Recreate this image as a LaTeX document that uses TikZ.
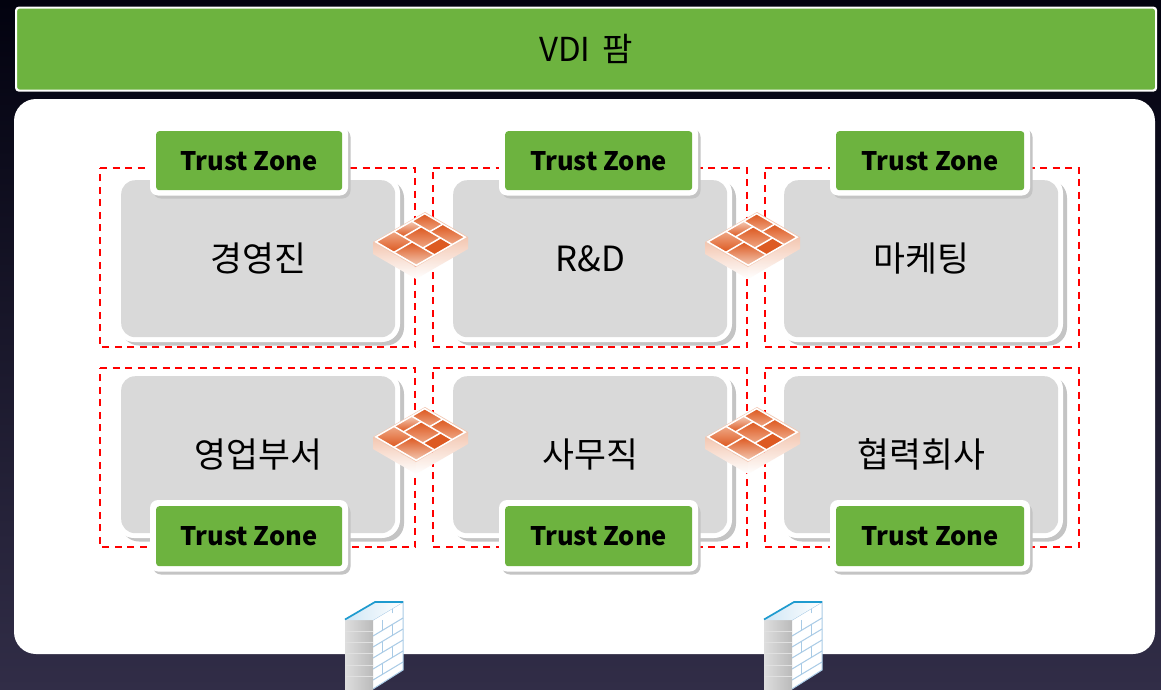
\documentclass[tikz,border=0pt]{standalone}
\usepackage{fontspec}
\setmainfont{Noto Sans CJK KR}
\usetikzlibrary{positioning,calc}
\definecolor{zonegreen}{HTML}{6DB33F}
\definecolor{boxgray}{HTML}{D9D9D9}
\definecolor{shadowgray}{HTML}{C4C4C4}
\definecolor{bgtop}{HTML}{02020F}
\definecolor{bgbot}{HTML}{312D47}
\definecolor{fwA}{HTML}{DD5A22}
\definecolor{fwB}{HTML}{EFA582}
\definecolor{fwC}{HTML}{F3C6B0}
\definecolor{wallline}{HTML}{A9CBE6}
\definecolor{wallblue}{HTML}{1F9BCF}
\definecolor{walltop}{HTML}{CFE6F5}
\tikzset{
  banner/.style={draw=white,line width=2.2pt,fill=zonegreen,rounded corners=3pt,text=black,font=\fontsize{33}{38}\selectfont},
  panel/.style={fill=white,rounded corners=22pt},
  zoneframe/.style={draw=red,line width=1.6pt,dash pattern=on 7pt off 5.5pt},
  deptbox/.style={fill=boxgray,rounded corners=14pt,text=black,font=\fontsize{34.7}{40}\selectfont},
  trustbox/.style={fill=zonegreen,rounded corners=3pt,text=black,font=\bfseries\fontsize{25.5}{30}\selectfont},
  ringwhite/.style={fill=white,rounded corners=8pt},
  ringshadow/.style={fill=shadowgray,rounded corners=8pt},
  cellline/.style={draw=white,line width=1.5pt},
  fwcell/.style={top color=fwA,bottom color=fwB},
}
% dept: name, x0, y0, x1, y1, text
\newcommand{\deptbox}[6]{%
  \fill[ringshadow,rounded corners=18pt] (#2,#3) rectangle (#4+9,#5+8.5);
  \fill[ringwhite,rounded corners=18pt] (#2-5,#3-5) rectangle (#4+5,#5+5);
  \node[deptbox,minimum width=#4pt-#2pt,minimum height=#5pt-#3pt,inner sep=0pt,anchor=north west] (#1) at (#2,#3) {#6};
}
% trust: name, x0, y0, x1, y1
\newcommand{\trustzone}[5]{%
  \fill[ringshadow] (#2-3,#3-2) rectangle (#4+8.5,#5+8.5);
  \fill[ringwhite] (#2-6,#3-6) rectangle (#4+6,#5+5.5);
  \node[trustbox,minimum width=#4pt-#2pt,minimum height=#5pt-#3pt,inner sep=0pt,anchor=north west] (#1) at (#2,#3) {Trust Zone};
}
% firewall: top corner x,y
\newcommand{\firewallicon}[2]{%
  \begin{scope}[shift={(#1,#2)},x={(43pt,-25pt)},y={(-52pt,-30pt)}]
    \shade[top color=fwC,bottom color=white]
      (0,1) -- (1,1) -- ([yshift=-12pt]1,1) -- ([yshift=-12pt]0,1) -- cycle;
    \shade[top color=fwC,bottom color=white]
      (1,1) -- (1,0) -- ([yshift=-12pt]1,0) -- ([yshift=-12pt]1,1) -- cycle;
    \fill[fwC] (0,0) -- (1,0) -- (1,1) -- (0,1) -- cycle;
    \shade[fwcell] (.04,.04) -- (.44,.04) -- (.44,.27) -- (.04,.27) -- cycle;
    \shade[fwcell] (.46,.04) -- (.96,.04) -- (.96,.27) -- (.46,.27) -- cycle;
    \shade[top color=fwC,bottom color=fwA] (.04,.29) -- (.24,.29) -- (.24,.61) -- (.04,.61) -- cycle;
    \shade[fwcell] (.26,.29) -- (.69,.29) -- (.69,.61) -- (.26,.61) -- cycle;
    \fill[fwA] (.71,.29) -- (.96,.29) -- (.96,.61) -- (.71,.61) -- cycle;
    \shade[top color=fwB,bottom color=fwA] (.04,.63) -- (.44,.63) -- (.44,.96) -- (.04,.96) -- cycle;
    \shade[top color=fwA,bottom color=fwC] (.46,.63) -- (.96,.63) -- (.96,.96) -- (.46,.96) -- cycle;
    \draw[cellline] (.03,.03) -- (.97,.03) -- (.97,.97) -- (.03,.97) -- cycle;
    \draw[cellline] (.03,.28) -- (.97,.28);
    \draw[cellline] (.03,.62) -- (.97,.62);
    \draw[cellline] (.45,.03) -- (.45,.28);
    \draw[cellline] (.25,.28) -- (.25,.62);
    \draw[cellline] (.70,.28) -- (.70,.62);
    \draw[cellline] (.45,.62) -- (.45,.97);
  \end{scope}
}
% wall: x offset
\newcommand{\wallicon}[1]{%
  \begin{scope}[shift={(#1,0)}]
    \fill[white] (373,620) -- (403,602) -- (403,670) -- (373,689) -- cycle;
    \draw[wallline,line width=1pt] (373,620) -- (403,602) -- (403,670) -- (373,689);
    \foreach \yy in {0,1,2,3,4}{
      \draw[wallline,line width=1pt] (373,636+11*\yy) -- (403,618+11*\yy);
    }
    \foreach \yy/\ff in {0/.65,1/.3,2/.65,3/.3,4/.65,5/.3}{
      \draw[wallline,line width=1pt] ($(373,625+11*\yy)!\ff!(403,607+11*\yy)$) -- ++(0,-11);
    }
    \shade[left color=black!13,right color=black!27] (345,620) rectangle (373,689);
    \foreach \yy in {631,642,653,665,676}{\draw[black!12,line width=.7pt] (345,\yy) -- (373,\yy);}
    \shade[left color=walltop,right color=white] (345,620) -- (373,620) -- (403,602) -- (375,602) -- cycle;
    \draw[wallblue,line width=1.7pt] (345,619.5) -- (375,602) -- (403,602);
  \end{scope}
}
\begin{document}
\begin{tikzpicture}[x=1pt,y=-1pt]
\useasboundingbox (0,0) rectangle (1161,689);
\shade[top color=bgtop,bottom color=bgbot] (0,0) rectangle (1161,689);
\node[banner,minimum width=1140pt,minimum height=83pt,inner sep=0pt,anchor=north west] (farm) at (15,6.5) {VDI\hspace{5pt} 팜};
\fill[panel] (14,99) rectangle (1155,654);
% frames
\foreach \xa/\xb in {100/415,433/747,765/1079}{
  \draw[zoneframe] (\xa,168) -- (\xb,168) -- (\xb,347) -- (\xa,347) -- cycle;
  \draw[zoneframe] (\xa,368) -- (\xb,368) -- (\xb,547) -- (\xa,547) -- cycle;
}
\deptbox{ceo}{121}{180}{395}{337}{경영진}
\deptbox{rnd}{453}{180}{727}{337}{R\&D}
\deptbox{mkt}{784}{180}{1058}{337}{마케팅}
\deptbox{sales}{121}{376}{395}{533}{영업부서}
\deptbox{office}{453}{376}{727}{533}{사무직}
\deptbox{partner}{784}{376}{1058}{533}{협력회사}
\trustzone{tz1}{156}{131}{342}{190}
\trustzone{tz2}{505}{131}{692}{190}
\trustzone{tz3}{836}{131}{1024}{190}
\trustzone{tz4}{156}{506}{342}{566}
\trustzone{tz5}{505}{506}{692}{566}
\trustzone{tz6}{836}{506}{1024}{566}
\firewallicon{425}{212}
\firewallicon{757}{212}
\firewallicon{425}{407}
\firewallicon{757}{407}
\wallicon{0}
\wallicon{419}
\end{tikzpicture}
\end{document}
